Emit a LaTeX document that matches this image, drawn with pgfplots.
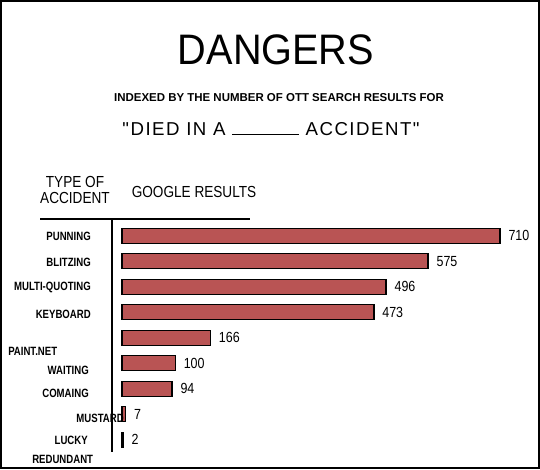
\documentclass[border=0pt]{standalone}
\usepackage{fontspec}
\setmainfont{Liberation Sans}
\newfontfamily\lab{Liberation Sans}[FakeStretch=0.8]
\newfontfamily\hdr{Liberation Sans}[FakeStretch=0.85]
\newfontfamily\ttl{Liberation Sans}[FakeStretch=0.93]
\newfontfamily\quo{Liberation Sans}[LetterSpace=8]
\newfontfamily\num{Liberation Sans}[FakeStretch=0.85]
\usepackage{pgfplots}
\pgfplotsset{compat=1.18}
\definecolor{barred}{RGB}{185,84,84}
\begin{document}
\begin{tikzpicture}
\begin{axis}[
  anchor=south west, at={(91.5pt,-6.75pt)},
  width=283.5pt, height=191.25pt, scale only axis,
  xmin=0, xmax=710, ymin=-0.5, ymax=9.5, y dir=reverse,
  axis lines=none, clip=false,
  xbar, bar width=11.25pt,
  point meta=x,
  /pgf/number format/assume math mode=true,
  nodes near coords,
  every node near coord/.append style={anchor=west, xshift=2.5pt, font=\num\fontsize{11}{13}\selectfont, text=black},
]
\addplot[fill=barred, draw=black, line width=1.1pt] coordinates {
  (710,0) (575,1) (496,2) (473,3) (166,4) (100,5) (94,6) (7,7) (2,8)
};
\end{axis}
\begin{scope}[x=0.75pt,y=-0.75pt,shift={(0pt,351.75pt)}]
  % frame
  \draw[line width=1.5pt] (1,1) rectangle (539,468);
  % title
  \node[font=\ttl\fontsize{32}{36}\selectfont] at (276,50) {DANGERS};
  \node[font=\bfseries\fontsize{8.6}{10}\selectfont] at (279,98) {INDEXED BY THE NUMBER OF OTT SEARCH RESULTS FOR};
  \node[font=\quo\fontsize{14}{16}\selectfont] at (271,129) {"DIED IN A \rule{50pt}{0.7pt} ACCIDENT"};
  % headers
  \node[font=\hdr\fontsize{12}{14}\selectfont, align=center] at (75,190) {TYPE OF\\[-2pt]ACCIDENT};
  \node[font=\hdr\fontsize{12}{14}\selectfont] at (194,192) {GOOGLE RESULTS};
  \draw[line width=0.8pt] (40,219) -- (250,219);
  \draw[line width=0.8pt] (112,219) -- (112,452);
  % category labels
  \begin{scope}[every node/.style={font=\lab\bfseries\fontsize{9}{10}\selectfont, inner sep=0pt}]
    \node[anchor=east] at (91,236) {PUNNING};
    \node[anchor=east] at (91,262) {BLITZING};
    \node[anchor=east] at (91,287) {MULTI-QUOTING};
    \node[anchor=east] at (91,314) {KEYBOARD};
    \node[anchor=west] at (8,351) {PAINT.NET};
    \node[anchor=east] at (89,370) {WAITING};
    \node[anchor=east] at (89,393) {COMAING};
    \node[anchor=east] at (124,418) {MUSTARD};
    \node[anchor=east] at (88,440) {LUCKY};
    \node[anchor=west] at (32,459) {REDUNDANT};
  \end{scope}
\end{scope}
\pgfresetboundingbox
\path[use as bounding box] (0,0) rectangle (405pt,351.75pt);
\end{tikzpicture}
\end{document}
